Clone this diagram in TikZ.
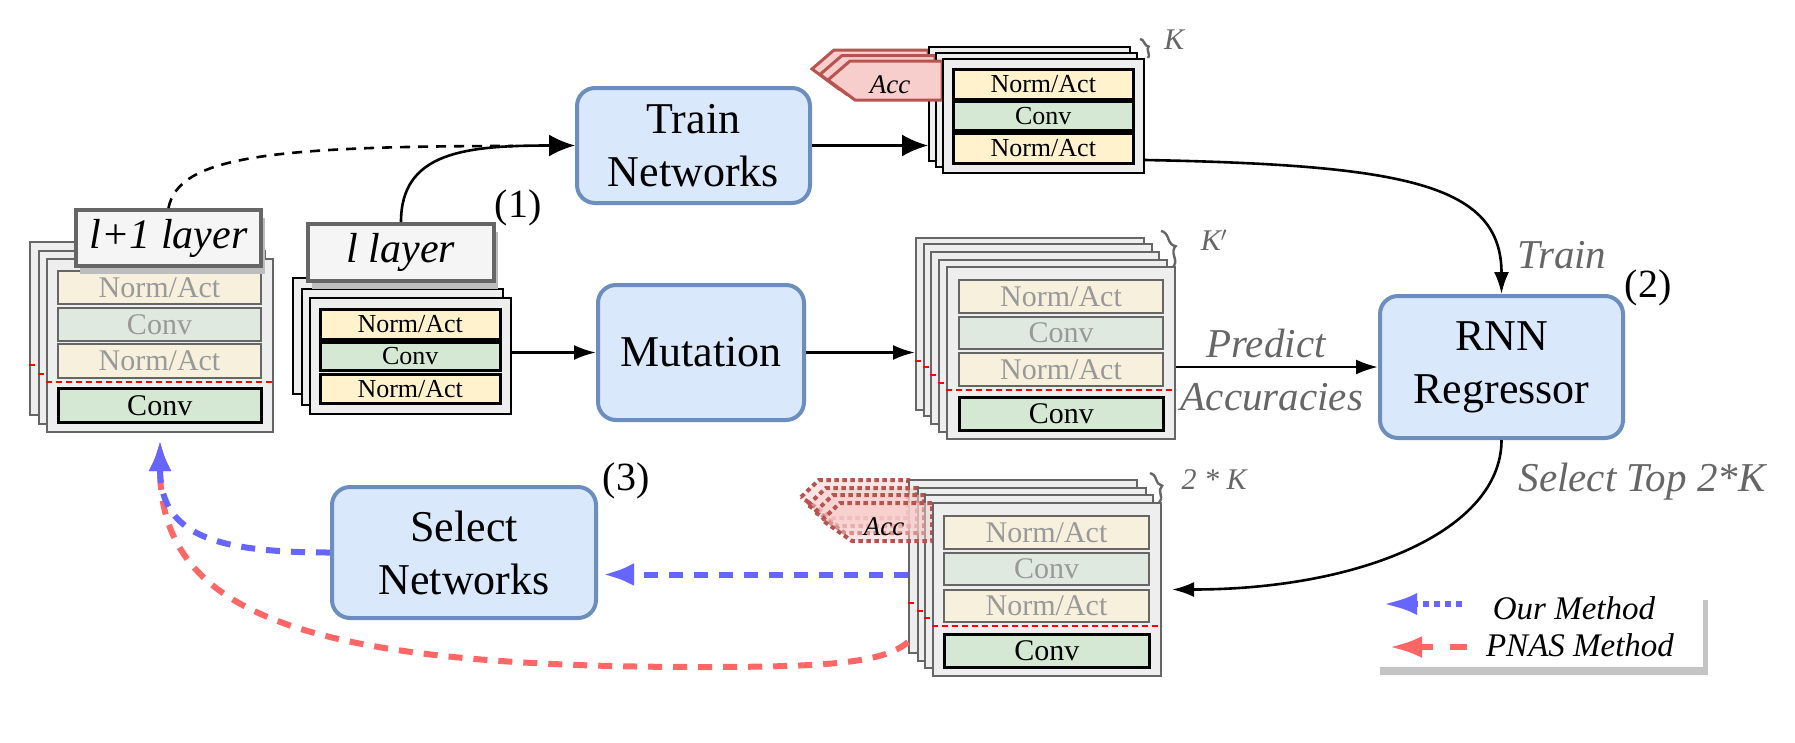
\documentclass[tikz,border=0pt]{standalone}
\usepackage{fontspec}
\setmainfont{Liberation Serif}
\usetikzlibrary{arrows.meta,calc,decorations.pathreplacing}
\definecolor{boxfill}{HTML}{DAE8FC}
\definecolor{boxdraw}{HTML}{6C8EBF}
\definecolor{cardgray}{HTML}{EEEEEE}
\definecolor{nafill}{HTML}{FFF2CC}
\definecolor{convfill}{HTML}{D5E8D4}
\definecolor{nafade}{HTML}{F6F0DD}
\definecolor{convfade}{HTML}{E0E9DF}
\definecolor{fadetext}{HTML}{999999}
\definecolor{fadeborder}{HTML}{666666}
\definecolor{accfill}{HTML}{F8CECC}
\definecolor{accdraw}{HTML}{B85450}
\definecolor{labgray}{HTML}{666666}
\definecolor{ourblue}{HTML}{6666FF}
\definecolor{pnasred}{HTML}{FF6666}
\definecolor{lblfill}{HTML}{F5F5F5}
\definecolor{shadowgray}{HTML}{BDBDBD}
\definecolor{legshadow}{HTML}{C4C4C4}
\definecolor{dashred}{HTML}{FF0000}
\begin{document}
\begin{tikzpicture}[x=1pt,y=-1pt,
 proc/.style={draw=boxdraw, fill=boxfill, line width=4pt, rounded corners=18pt, align=center, inner sep=0pt, font=\fontsize{44}{53}\selectfont},
 cardk/.style={draw=black, fill=cardgray, line width=2pt, anchor=north west, inner sep=0pt},
 cardg/.style={draw=fadeborder, fill=cardgray, line width=2pt, anchor=north west, inner sep=0pt},
 blk/.style={anchor=north west, inner sep=0pt, line width=2.5pt},
 na/.style={blk, draw=black, fill=nafill},
 cv/.style={blk, draw=black, fill=convfill},
 naf/.style={blk, draw=fadeborder, fill=nafade, text=fadetext, line width=2pt},
 cvf/.style={blk, draw=fadeborder, fill=convfade, text=fadetext, line width=2pt},
 bigf/.style={font=\fontsize{30}{34}\selectfont},
 smallf/.style={font=\fontsize{26}{30}\selectfont},
 reddash/.style={draw=dashred, line width=1.8pt, dash pattern=on 6pt off 4pt},
 layerlbl/.style={draw=fadeborder, fill=lblfill, line width=4pt, anchor=north west, inner sep=0pt, font=\fontsize{42}{48}\selectfont\itshape},
 shadowbox/.style={fill=shadowgray, anchor=north west, inner sep=0pt},
 lbl/.style={text=labgray, font=\fontsize{41}{48}\selectfont\itshape},
 klbl/.style={text=labgray, font=\fontsize{30}{34}\selectfont\itshape},
 brc/.style={draw=labgray, line width=2.4pt, decorate, decoration={brace, amplitude=#1}},
 num/.style={font=\fontsize{40}{46}\selectfont},
 conn/.style={line width=2.6pt, -{Latex[length=22pt,width=15pt]}},
 connbig/.style={line width=2.6pt, -{Latex[length=26pt,width=22pt]}},
 dashconn/.style={line width=2.6pt, dash pattern=on 10pt off 8pt},
 accsolid/.style={draw=accdraw, fill=accfill, line width=3pt},
 accdot/.style={draw=accdraw, fill=accfill, fill opacity=0.5, line width=4pt, dash pattern=on 4.5pt off 3.5pt},
 acctext/.style={font=\fontsize{27}{30}\selectfont\itshape},
 bluedash/.style={draw=ourblue, line width=6pt, dash pattern=on 14pt off 11pt, -{Latex[length=31pt,width=23pt]}},
 reddashed/.style={draw=pnasred, line width=6pt, dash pattern=on 14pt off 11pt, -{Latex[length=31pt,width=23pt]}},
 legtext/.style={font=\fontsize{33}{38}\selectfont\itshape},
]
\useasboundingbox (0,0) rectangle (1795,742);
\fill[white] (0,0) rectangle (1795,742);

% ---------- Stack A : l+1 layer (faded) ----------
\foreach \i/\x/\y in {1/29/241, 2/38/250, 3/46/258} {
  \node[cardg, minimum width=226pt, minimum height=173pt] (ac\i) at (\x,\y) {};
  \draw[reddash] ($(ac\i.north west)+(0,124)$) -- ($(ac\i.north east)+(0,124)$);
}
\node[naf, bigf, minimum width=203pt, minimum height=33pt] (a1) at (57,270) {Norm/Act};
\node[cvf, bigf, minimum width=203pt, minimum height=33pt] (a2) at (57,307) {Conv};
\node[naf, bigf, minimum width=203pt, minimum height=34pt] (a3) at (57,343) {Norm/Act};
\node[cv, bigf, minimum width=203pt, minimum height=34pt] (a4) at (57,387) {Conv};
\node[shadowbox, minimum width=185pt, minimum height=56pt] (l1sh) at (80,218) {};
\node[layerlbl, minimum width=185pt, minimum height=56pt] (l1lab) at (74,208) {l+1 layer};

% ---------- Stack B : l layer ----------
\foreach \i/\x/\y in {1/292/277, 2/301/288, 3/309/297} {
  \node[cardk, minimum width=201pt, minimum height=116pt] (bc\i) at (\x,\y) {};
}
\node[na, smallf, minimum width=180pt, minimum height=30pt] (b1) at (319,308) {Norm/Act};
\node[cv, smallf, minimum width=180pt, minimum height=28pt] (b2) at (319,341) {Conv};
\node[na, smallf, minimum width=180pt, minimum height=29pt] (b3) at (319,373) {Norm/Act};
\node[shadowbox, minimum width=186pt, minimum height=57pt] (lsh) at (312,232) {};
\node[layerlbl, minimum width=186pt, minimum height=57pt] (llab) at (306,222) {l layer};

% ---------- Stack C : trained (top) ----------
\draw[accsolid] (812,69) -- (834,50) -- (928,50) -- (928,89) -- (839,89) -- cycle;
\node[cardk, minimum width=201pt, minimum height=114pt] (cc1) at (928,46) {};
\draw[accsolid] (820,74.5) -- (842,55.5) -- (935,55.5) -- (935,94.5) -- (847,94.5) -- cycle;
\node[cardk, minimum width=201pt, minimum height=114pt] (cc2) at (935,52) {};
\draw[accsolid] (828,80) -- (850,61) -- (942,61) -- (942,100) -- (855,100) -- cycle;
\node[cardk, minimum width=201pt, minimum height=114pt] (cc3) at (942,58) {};
\node[acctext] (acc1) at (890,85) {Acc};
\node[na, smallf, minimum width=180pt, minimum height=30pt] (c1) at (952,68) {Norm/Act};
\node[cv, smallf, minimum width=180pt, minimum height=29pt] (c2) at (952,100) {Conv};
\node[na, smallf, minimum width=180pt, minimum height=30pt] (c3) at (952,132) {Norm/Act};
\coordinate (kb1a) at (1140,39);
\coordinate (kb1b) at (1148,58);
\draw[brc=5pt] (kb1a) -- (kb1b);
\node[klbl] (k1) at (1174,40) {K};

% ---------- Stack D : mutated (K') ----------
\foreach \i/\x/\y in {1/915/237, 2/923/243, 3/930/251, 4/938/259, 5/946/266} {
  \node[cardg, minimum width=228pt, minimum height=172pt] (dc\i) at (\x,\y) {};
  \draw[reddash] ($(dc\i.north west)+(0,124)$) -- ($(dc\i.north east)+(0,124)$);
}
\node[naf, bigf, minimum width=204pt, minimum height=33pt] (d1) at (958,279) {Norm/Act};
\node[cvf, bigf, minimum width=204pt, minimum height=32pt] (d2) at (958,316) {Conv};
\node[naf, bigf, minimum width=204pt, minimum height=33pt] (d3) at (958,352) {Norm/Act};
\node[cv, bigf, minimum width=204pt, minimum height=33pt] (d4) at (958,396) {Conv};
\coordinate (kb2a) at (1161,231);
\coordinate (kb2b) at (1173,267);
\draw[brc=9pt] (kb2a) -- (kb2b);
\node[klbl] (k2) at (1214,240) {K$^{\prime}$};

% ---------- Stack E : selected (2*K) ----------
\draw[accdot] (801,497) -- (819,480) -- (908,480) -- (908,518) -- (831,518) -- cycle;
\node[cardg, minimum width=228pt, minimum height=173pt] (ec1) at (908,479) {};
\draw[reddash] ($(ec1.north west)+(0,124)$) -- ($(ec1.north east)+(0,124)$);
\draw[accdot] (808,505) -- (826,488) -- (917,488) -- (917,526) -- (838,526) -- cycle;
\node[cardg, minimum width=228pt, minimum height=173pt] (ec2) at (917,487) {};
\draw[reddash] ($(ec2.north west)+(0,124)$) -- ($(ec2.north east)+(0,124)$);
\draw[accdot] (815,512) -- (833,495) -- (924,495) -- (924,533) -- (845,533) -- cycle;
\node[cardg, minimum width=228pt, minimum height=173pt] (ec3) at (924,494) {};
\draw[reddash] ($(ec3.north west)+(0,124)$) -- ($(ec3.north east)+(0,124)$);
\draw[accdot] (822,520) -- (840,503) -- (932,503) -- (932,541) -- (852,541) -- cycle;
\node[cardg, minimum width=228pt, minimum height=173pt] (ec4) at (932,502) {};
\draw[reddash] ($(ec4.north west)+(0,124)$) -- ($(ec4.north east)+(0,124)$);
\node[acctext] (acc2) at (884,527) {Acc};
\node[naf, bigf, minimum width=205pt, minimum height=33pt] (e1) at (943,515) {Norm/Act};
\node[cvf, bigf, minimum width=205pt, minimum height=32pt] (e2) at (943,552) {Conv};
\node[naf, bigf, minimum width=205pt, minimum height=32pt] (e3) at (943,589) {Norm/Act};
\node[cv, bigf, minimum width=205pt, minimum height=33pt] (e4) at (943,633) {Conv};
\coordinate (kb3a) at (1150,473);
\coordinate (kb3b) at (1159,503);
\draw[brc=8pt] (kb3a) -- (kb3b);
\node[klbl] (k3) at (1214,480) {2 * K};

% ---------- Process boxes ----------
\node[proc, minimum width=233pt, minimum height=115pt] (train) at (693.5,145.5) {Train\\Networks};
\node[proc, minimum width=206pt, minimum height=135pt] (mut) at (701,352.5) {Mutation};
\node[proc, minimum width=243pt, minimum height=142pt] (rnn) at (1501.5,367) {RNN\\Regressor};
\node[proc, minimum width=264pt, minimum height=131pt] (sel) at (464,552.5) {Select\\Networks};

\node[num] (n1) at (518,208) {(1)};
\node[num] (n2) at (1648,288) {(2)};
\node[num] (n3) at (626,481) {(3)};

\node[lbl] (ltrain) at (1562,255) {Train};
\node[lbl] (lpred) at (1266,343) {Predict};
\node[lbl] (lacc) at (1272,397) {Accuracies};
\node[lbl] (lsel) at (1642,482) {Select Top 2*K};

% ---------- Connectors ----------
\coordinate (merge) at (513,146);
\draw[dashconn] (l1lab.north) .. controls +(10,-50) and +(-250,0) .. (merge);
\draw[connbig] (llab.north) .. controls +(0,-70) and +(-110,0) .. (train.west);
\draw[connbig] (train.east) -- (train.east -| cc1.west);
\coordinate (tout) at ($(cc3.south east)+(0,-14)$);
\draw[conn] (tout) .. controls +(260,5) and +(0,-110) .. (rnn.north);
\draw[conn] (mut.west -| bc3.east) -- (mut.west);
\draw[conn] (mut.east) -- (mut.east -| dc1.west);
\draw[conn] (rnn.west -| dc5.east) -- (rnn.west);
\draw[conn, shorten >=10pt] (rnn.south) .. controls +(0,90) and +(200,0) .. (ec4.east);

\coordinate (ro) at ($(ec1.south west)+(0,-12)$);
\coordinate (rmid) at (700,667);
\draw[reddashed, shorten >=7pt] (ro) .. controls +(-25,22) and +(120,0) .. (rmid) .. controls +(-400,0) and +(0,180) .. (ac3.south);
\coordinate (bo) at ($(ec1.west)+(0,8)$);
\draw[bluedash, shorten >=5pt] (bo) -- (bo -| sel.east);
\draw[bluedash, shorten >=7pt] (sel.west) .. controls +(-120,0) and +(0,100) .. (ac3.south);

% ---------- Legend ----------
\node[shadowbox, fill=legshadow, minimum width=328pt, minimum height=75pt] (legsh) at (1380,600) {};
\node[anchor=north west, fill=white, minimum width=328pt, minimum height=75pt, inner sep=0pt] (leg) at (1375,592) {};
\coordinate (ob1) at (1462,604);
\coordinate (ob2) at (1383,604);
\draw[draw=ourblue, line width=6pt, dash pattern=on 6pt off 5pt, -{Latex[length=34pt,width=22pt]}] (ob1) -- (ob2);
\coordinate (pr1) at (1467,647);
\coordinate (pr2) at (1389,647);
\draw[draw=pnasred, line width=6pt, dash pattern=on 17pt off 17pt, -{Latex[length=33pt,width=22pt]}] (pr1) -- (pr2);
\node[legtext] (tour) at (1574,608) {Our Method};
\node[legtext] (tpnas) at (1580,645) {PNAS Method};
\end{tikzpicture}
\end{document}
